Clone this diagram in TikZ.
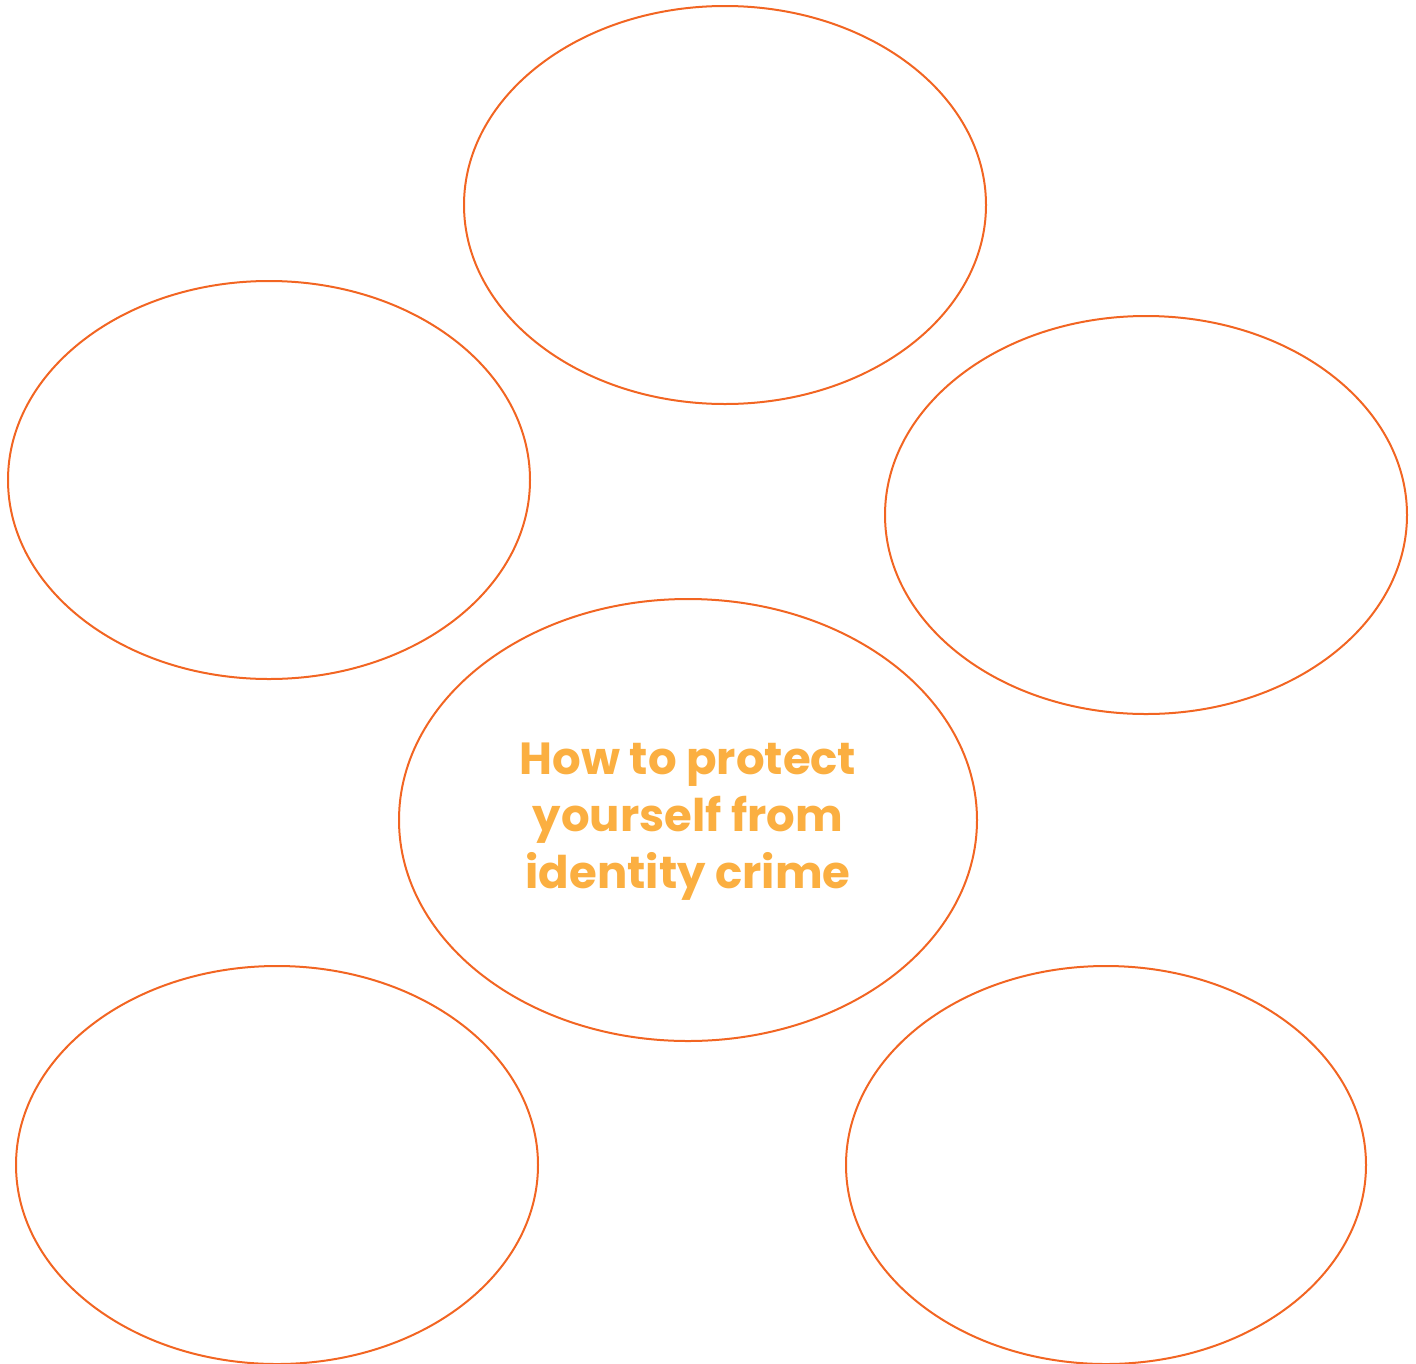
\documentclass[tikz,border=0pt]{standalone}
\usepackage{fontspec}
\setmainfont{Poppins}
\definecolor{ringorange}{HTML}{F26522}
\definecolor{titleorange}{HTML}{FBAF41}
\begin{document}
\begin{tikzpicture}[x=1pt,y=-1pt,
  bubble/.style={draw=ringorange,line width=2pt},
  titletext/.style={text=titleorange,font=\bfseries\fontsize{45}{57}\selectfont,align=center}]
\useasboundingbox (0,0) rectangle (1416,1363);
\draw[bubble] (725,205) ellipse [x radius=261,y radius=199];
\draw[bubble] (269,480) ellipse [x radius=261,y radius=199];
\draw[bubble] (1146,515) ellipse [x radius=261,y radius=199];
\draw[bubble] (688,820) ellipse [x radius=289,y radius=221];
\draw[bubble] (277,1165) ellipse [x radius=261,y radius=199];
\draw[bubble] (1106,1165) ellipse [x radius=260,y radius=199];
\node[titletext] (title) at (688,822) {How to protect\\yourself from\\identity crime};
\end{tikzpicture}
\end{document}
